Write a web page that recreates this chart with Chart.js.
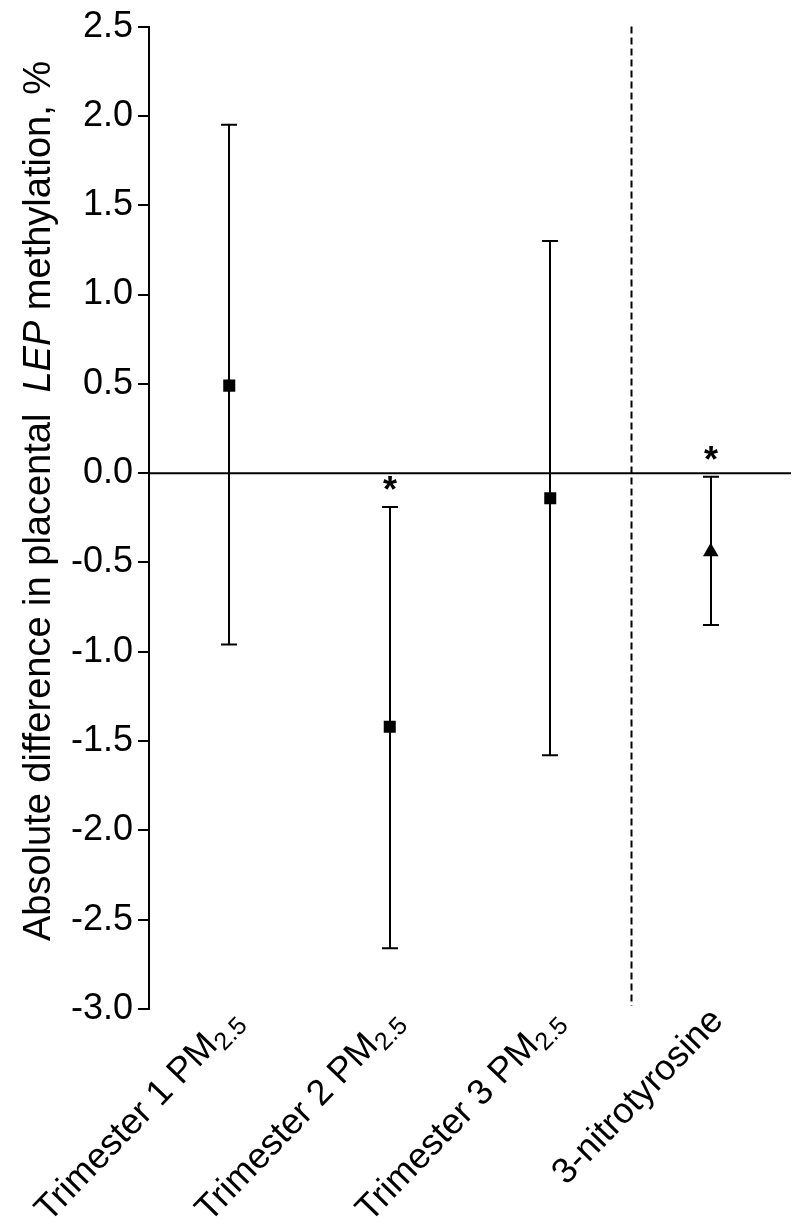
<!DOCTYPE html>
<html>
<head>
<meta charset="utf-8">
<script src="https://cdn.jsdelivr.net/npm/chart.js@4.4.1/dist/chart.umd.min.js"></script>
<style>
  body { margin: 0; background: #fff; }
  #wrap { width: 800px; height: 1232px; position: relative; }
</style>
</head>
<body>
<div id="wrap"><canvas id="c"></canvas></div>
<script>
// categories (main part + subscript)
const labels = ['Trimester 1 PM', 'Trimester 2 PM', 'Trimester 3 PM', '3-nitrotyrosine'];
const labelSubs = ['2.5', '2.5', '2.5', ''];
// estimates and 95% CI, absolute difference in %
const estimate = [0.49, -1.42, -0.14, -0.44];
const ciLow = [-0.96, -2.66, -1.58, -0.85];
const ciHigh = [1.95, -0.19, 1.30, -0.02];
const significant = [false, true, false, true];
const markers = ['rect', 'rect', 'rect', 'triangle'];
// y ticks
const yMin = -3.0, yMax = 2.5, yStep = 0.5;

const FONT = '"Liberation Sans", Arial, sans-serif';

const errorBars = {
  id: 'errorBars',
  beforeDatasetsDraw(chart) {
    const {ctx, chartArea, scales: {x, y}} = chart;
    ctx.save();
    ctx.strokeStyle = '#000';
    ctx.lineWidth = 2;
    // zero line
    const y0 = y.getPixelForValue(0);
    ctx.beginPath();
    ctx.moveTo(chartArea.left, y0);
    ctx.lineTo(chartArea.right, y0);
    ctx.stroke();
    // dashed separator between PM2.5 and 3-nitrotyrosine
    const xs = Math.round(x.getPixelForValue(3.5)) + 0.5;
    ctx.setLineDash([7, 4]);
    ctx.beginPath();
    ctx.moveTo(xs, chartArea.top);
    ctx.lineTo(xs, chartArea.bottom - 3);
    ctx.stroke();
    ctx.setLineDash([]);
    // whiskers
    estimate.forEach((v, i) => {
      const px = Math.round(x.getPixelForValue(i + 1));
      const lo = y.getPixelForValue(ciLow[i]);
      const hi = y.getPixelForValue(ciHigh[i]);
      ctx.beginPath();
      ctx.moveTo(px, lo); ctx.lineTo(px, hi);
      ctx.moveTo(px - 8, lo); ctx.lineTo(px + 8, lo);
      ctx.moveTo(px - 8, hi); ctx.lineTo(px + 8, hi);
      ctx.stroke();
      if (significant[i]) {
        ctx.fillStyle = '#000';
        ctx.font = 'bold 36px ' + FONT;
        ctx.textAlign = 'center';
        ctx.textBaseline = 'alphabetic';
        ctx.fillText('*', px, hi - 5);
      }
    });
    ctx.restore();
  },
  afterDraw(chart) {
    const {ctx, scales: {x}} = chart;
    ctx.save();
    ctx.fillStyle = '#000';
    // rotated category labels with subscripts
    labels.forEach((lab, i) => {
      const px = x.getPixelForValue(i + 1);
      ctx.save();
      ctx.translate(px + 14, 1022);
      ctx.rotate(-46 * Math.PI / 180);
      ctx.textBaseline = 'alphabetic';
      ctx.textAlign = 'left';
      ctx.font = '36px ' + FONT;
      const w1 = ctx.measureText(lab).width;
      ctx.font = '25px ' + FONT;
      const w2 = labelSubs[i] ? ctx.measureText(labelSubs[i]).width : 0;
      ctx.font = '36px ' + FONT;
      ctx.fillText(lab, -w1 - w2, 0);
      if (labelSubs[i]) {
        ctx.font = '25px ' + FONT;
        ctx.fillText(labelSubs[i], -w2, 7);
      }
      ctx.restore();
    });
    // y axis title with italic gene name
    const parts = [
      ['Absolute difference in placental  ', '38px ' + FONT],
      ['LEP', 'italic 38px ' + FONT],
      [' methylation, %', '38px ' + FONT]
    ];
    ctx.save();
    ctx.translate(50, 501);
    ctx.rotate(-Math.PI / 2);
    ctx.textBaseline = 'alphabetic';
    ctx.textAlign = 'left';
    let total = 0;
    parts.forEach(p => { ctx.font = p[1]; total += ctx.measureText(p[0]).width; });
    let cx = -total / 2;
    parts.forEach(p => {
      ctx.font = p[1];
      ctx.fillText(p[0], cx, 0);
      cx += ctx.measureText(p[0]).width;
    });
    ctx.restore();
    ctx.restore();
  }
};

new Chart(document.getElementById('c'), {
  type: 'scatter',
  data: {
    datasets: [{
      data: estimate.map((v, i) => ({x: i + 1, y: v})),
      pointStyle: markers,
      pointRadius: [8.5, 8.5, 8.5, 9],
      backgroundColor: '#000',
      borderColor: '#000',
      borderWidth: 0
    }]
  },
  options: {
    responsive: true,
    maintainAspectRatio: false,
    animation: false,
    layout: { padding: { top: 26, bottom: 223, left: 0, right: 8 } },
    plugins: { legend: { display: false }, tooltip: { enabled: false } },
    scales: {
      x: { type: 'linear', min: 0.5, max: 4.5, display: false },
      y: {
        min: yMin, max: yMax,
        afterFit(scale) { scale.width = 149; },
        ticks: {
          stepSize: yStep,
          color: '#000',
          padding: 5,
          font: { family: FONT, size: 36 },
          callback: v => v.toFixed(1)
        },
        grid: { drawOnChartArea: false, drawTicks: true, tickLength: 11, color: '#000', lineWidth: 2 },
        border: { display: true, color: '#000', width: 2 }
      }
    }
  },
  plugins: [errorBars]
});
</script>
</body>
</html>
